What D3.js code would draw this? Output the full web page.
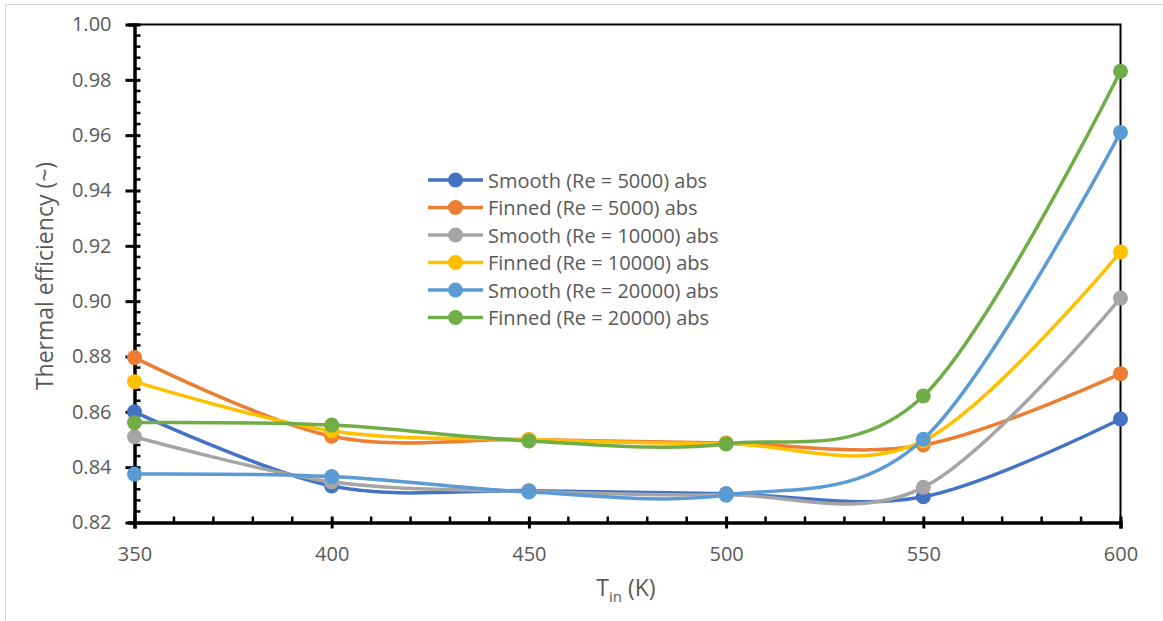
<!DOCTYPE html>
<html>
<head>
<meta charset="utf-8">
<script src="https://cdn.jsdelivr.net/npm/d3@7"></script>
<style>
  body { margin: 0; background: #fff; }
  text { font-family: "Open Sans", "Liberation Sans", sans-serif; fill: #595959; }
</style>
</head>
<body>
<svg id="chart" width="1163" height="621"></svg>
<script>
// chart data
const temps = [350, 400, 450, 500, 550, 600];
const seriesNames = [
  'Smooth (Re = 5000) abs',
  'Finned (Re = 5000) abs',
  'Smooth (Re = 10000) abs',
  'Finned (Re = 10000) abs',
  'Smooth (Re = 20000) abs',
  'Finned (Re = 20000) abs'
];
const smooth5000 = [0.8600, 0.8332, 0.8315, 0.8304, 0.8293, 0.8574];
const finned5000 = [0.8796, 0.8512, 0.8500, 0.8487, 0.8480, 0.8738];
const smooth10000 = [0.8510, 0.8347, 0.8312, 0.8300, 0.8327, 0.9011];
const finned10000 = [0.8709, 0.8531, 0.8500, 0.8485, 0.8495, 0.9178];
const smooth20000 = [0.8375, 0.8366, 0.8310, 0.8299, 0.8501, 0.9610];
const finned20000 = [0.8561, 0.8552, 0.8495, 0.8484, 0.8657, 0.9831];
const colors = ['#4472C4', '#ED7D31', '#A5A5A5', '#FFC000', '#5B9BD5', '#70AD47'];
const yTicks = [0.82, 0.84, 0.86, 0.88, 0.90, 0.92, 0.94, 0.96, 0.98, 1.00];
const xTicks = [350, 400, 450, 500, 550, 600];

const allSeries = [smooth5000, finned5000, smooth10000, finned10000, smooth20000, finned20000];

const svg = d3.select('#chart');
const plotLeft = 134.5, plotRight = 1120.5, plotTop = 24.5, plotBottom = 522.5;

// outer chart border
svg.append('rect')
  .attr('x', 5.5).attr('y', 4.5)
  .attr('width', 1170).attr('height', 630)
  .attr('fill', 'none').attr('stroke', '#d9d9d9').attr('stroke-width', 1);

const x = d3.scaleLinear().domain([350, 600]).range([plotLeft, plotRight]);
const y = d3.scaleLinear().domain([0.82, 1.00]).range([plotBottom, plotTop]);

// plot area frame (top & right)
svg.append('path')
  .attr('d', `M${plotLeft},${plotTop}H${plotRight}V${plotBottom}`)
  .attr('fill', 'none').attr('stroke', '#000').attr('stroke-width', 2);

// minor ticks
const xMinor = d3.range(350, 600.1, 10).filter(v => v % 50 !== 0);
svg.append('g').selectAll('line').data(xMinor).enter().append('line')
  .attr('x1', d => x(d)).attr('x2', d => x(d))
  .attr('y1', plotBottom).attr('y2', plotBottom - 6)
  .attr('stroke', '#000').attr('stroke-width', 2.5);
const yMinor = d3.range(0, 46).map(i => 0.82 + i * 0.004).filter((v, i) => i % 5 !== 0);
svg.append('g').selectAll('line').data(yMinor).enter().append('line')
  .attr('x1', plotLeft).attr('x2', plotLeft + 6)
  .attr('y1', d => y(d)).attr('y2', d => y(d))
  .attr('stroke', '#000').attr('stroke-width', 2.5);

// x axis
const xAxis = svg.append('g')
  .attr('transform', `translate(0,${plotBottom})`)
  .call(d3.axisBottom(x).tickValues(xTicks).tickFormat(d3.format('d')).tickSize(6).tickPadding(18));
xAxis.select('.domain').attr('stroke', '#000').attr('stroke-width', 3.5);
xAxis.selectAll('.tick line').attr('stroke', '#000').attr('stroke-width', 3).attr('y1', -6);
xAxis.selectAll('.tick text').attr('font-size', 20).attr('fill', '#595959')
  .style('font-family', '"Open Sans", sans-serif');

// y axis
const yAxis = svg.append('g')
  .attr('transform', `translate(${plotLeft},0)`)
  .call(d3.axisLeft(y).tickValues(yTicks).tickFormat(d3.format('.2f')).tickSize(6).tickPadding(17));
yAxis.select('.domain').attr('stroke', '#000').attr('stroke-width', 3.5);
yAxis.selectAll('.tick line').attr('stroke', '#000').attr('stroke-width', 3).attr('x2', -9).attr('x1', 6);
yAxis.selectAll('.tick text').attr('font-size', 20).attr('fill', '#595959')
  .style('font-family', '"Open Sans", sans-serif');

// lines and markers
const line = d3.line()
  .x((d, i) => x(temps[i]))
  .y(d => y(d))
  .curve(d3.curveCardinal.tension(0));

allSeries.forEach((vals, k) => {
  const g = svg.append('g');
  g.append('path')
    .datum(vals)
    .attr('d', line)
    .attr('fill', 'none')
    .attr('stroke', colors[k])
    .attr('stroke-width', 3.5);
  g.selectAll('circle').data(vals).enter().append('circle')
    .attr('cx', (d, i) => x(temps[i]))
    .attr('cy', d => y(d))
    .attr('r', 7.5)
    .attr('fill', colors[k]);
});

// legend
const legend = svg.append('g').attr('transform', 'translate(428,180)');
seriesNames.forEach((name, k) => {
  const row = legend.append('g').attr('transform', `translate(0,${k * 27.5})`);
  row.append('line').attr('x1', 0).attr('x2', 55).attr('y1', 0).attr('y2', 0)
    .attr('stroke', colors[k]).attr('stroke-width', 3.5);
  row.append('circle').attr('cx', 27.5).attr('cy', 0).attr('r', 7.5).attr('fill', colors[k]);
  row.append('text').attr('x', 60).attr('y', 7.5).attr('font-size', 20).text(name);
});

// axis titles
const xt = svg.append('text')
  .attr('x', 626).attr('y', 596).attr('text-anchor', 'middle').attr('font-size', 23);
xt.append('tspan').text('T');
xt.append('tspan').attr('font-size', 15).attr('dy', 6).text('in');
xt.append('tspan').attr('dy', -6).text(' (K)');

svg.append('text')
  .attr('transform', 'translate(53,276) rotate(-90)')
  .attr('text-anchor', 'middle').attr('font-size', 23)
  .text('Thermal efficiency (~)');
</script>
</body>
</html>
